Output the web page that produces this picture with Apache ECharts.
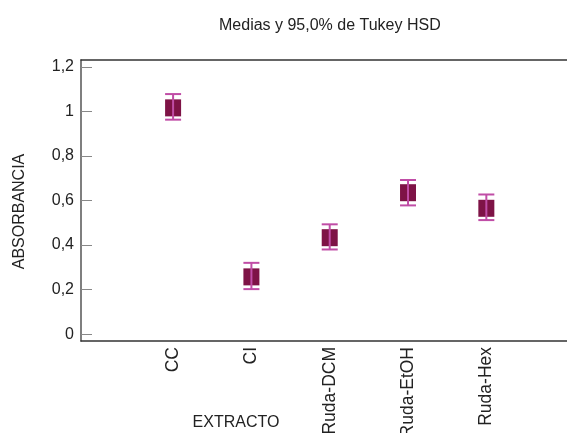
<!DOCTYPE html>
<html>
<head>
<meta charset="utf-8">
<script src="https://cdn.jsdelivr.net/npm/echarts@6/dist/echarts.min.js"></script>
<style>
  html, body { margin: 0; padding: 0; background: #fff; }
  #main { width: 567px; height: 433px; }
</style>
</head>
<body>
<div id="main"></div>
<script>
// datos
var categories = ['CC', 'CI', 'Ruda-DCM', 'Ruda-EtOH', 'Ruda-Hex'];
var means = [1.016, 0.257, 0.433, 0.635, 0.565];
var lower = [0.963, 0.202, 0.380, 0.578, 0.512];
var upper = [1.078, 0.320, 0.493, 0.692, 0.627];
var yTicks = [0, 0.2, 0.4, 0.6, 0.8, 1.0, 1.2];
var catPos = [1, 2, 3, 4, 5];

var font = 'Liberation Sans, Arial, sans-serif';
var myChart = echarts.init(document.getElementById('main'));

var pointData = catPos.map(function (p, i) { return [p, means[i]]; });
var barData = catPos.map(function (p, i) { return [p, lower[i], upper[i]]; });

var option = {
    animation: false,
    title: {
        text: 'Medias y 95,0% de Tukey HSD',
        left: 214,
        top: 13,
        textStyle: { fontFamily: font, fontSize: 16, fontWeight: 'normal', color: '#222' }
    },
    grid: { left: 81, right: 0, top: 60, bottom: 92, outerBoundsMode: 'none', containLabel: false },
    xAxis: [{
        type: 'value',
        min: -0.176,
        max: 6.03,
        position: 'bottom',
        splitLine: { show: false },
        axisLine: { show: true, onZero: false, lineStyle: { color: '#333', width: 1.5 } },
        axisTick: { show: false },
        axisLabel: {
            customValues: catPos,
            rotate: 90,
            margin: 6,
            fontFamily: font,
            fontSize: 17.5,
            color: '#222',
            formatter: function (v) { return categories[Math.round(v) - 1] || ''; }
        },
        name: 'EXTRACTO',
        nameLocation: 'middle',
        nameGap: 74,
        nameMoveOverlap: false,
        nameTextStyle: { fontFamily: font, fontSize: 16, color: '#222', padding: [0, 176, 0, 0] }
    }, {
        type: 'value',
        min: -0.176,
        max: 6.03,
        position: 'top',
        splitLine: { show: false },
        axisLine: { show: true, onZero: false, lineStyle: { color: '#333', width: 1.5 } },
        axisTick: { show: false },
        axisLabel: { show: false }
    }],
    yAxis: {
        type: 'value',
        min: -0.031,
        max: 1.231,
        splitLine: { show: false },
        axisLine: { show: true, onZero: false, lineStyle: { color: '#555', width: 1.5 } },
        axisTick: { show: true, inside: true, length: 11, customValues: yTicks, lineStyle: { color: '#888' } },
        axisLabel: {
            customValues: yTicks,
            margin: 7,
            fontFamily: font,
            fontSize: 16,
            color: '#222',
            formatter: function (v) { return String(+v.toFixed(1)).replace('.', ','); }
        },
        name: 'ABSORBANCIA',
        nameLocation: 'middle',
        nameGap: 53,
        nameRotate: 90,
        nameMoveOverlap: false,
        nameTextStyle: { fontFamily: font, fontSize: 16, color: '#222', padding: [0, 22, 0, 0] }
    },
    series: [{
        type: 'scatter',
        data: pointData,
        symbol: 'rect',
        symbolSize: [16, 17],
        itemStyle: { color: '#7E1346', opacity: 1 },
        z: 2
    }, {
        type: 'custom',
        data: barData,
        z: 3,
        renderItem: function (params, api) {
            var x = api.value(0);
            var lo = api.coord([x, api.value(1)]);
            var hi = api.coord([x, api.value(2)]);
            var hw = 8;
            var style = { stroke: '#C04DA6', lineWidth: 2 };
            return {
                type: 'group',
                children: [
                    { type: 'line', shape: { x1: lo[0], y1: lo[1], x2: hi[0], y2: hi[1] }, style: style },
                    { type: 'line', shape: { x1: hi[0] - hw, y1: hi[1], x2: hi[0] + hw, y2: hi[1] }, style: style },
                    { type: 'line', shape: { x1: lo[0] - hw, y1: lo[1], x2: lo[0] + hw, y2: lo[1] }, style: style }
                ]
            };
        }
    }]
};
myChart.setOption(option);
</script>
</body>
</html>
